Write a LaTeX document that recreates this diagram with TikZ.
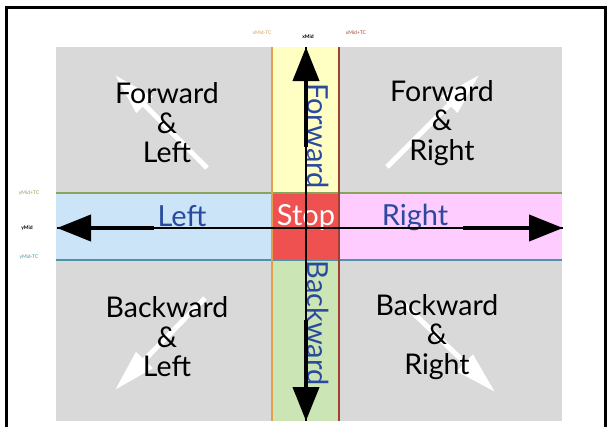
\documentclass[tikz,border=0pt]{standalone}
\usepackage{fontspec}
\setmainfont{Lato}
\usetikzlibrary{arrows.meta}

\definecolor{padgray}{HTML}{D9D9D9}
\definecolor{fwdyellow}{HTML}{FFFFC4}
\definecolor{backgreen}{HTML}{CCE5B5}
\definecolor{leftblue}{HTML}{CCE4F8}
\definecolor{rightpink}{HTML}{FFCCFF}
\definecolor{stopred}{HTML}{EF5050}
\definecolor{dirblue}{HTML}{2A4A9E}
\definecolor{lineolive}{HTML}{8AA35A}
\definecolor{lineteal}{HTML}{4F93A8}
\definecolor{lineorange}{HTML}{E0A050}
\definecolor{linebrown}{HTML}{A04030}

\tikzset{
  quadtext/.style={align=center, font=\fontsize{28.5}{29.5}\selectfont, text=black, inner sep=0pt},
  bandtext/.style={font=\fontsize{29}{30}\selectfont, text=dirblue, inner sep=0pt},
  ticklabel/.style={font=\fontsize{5}{6}\selectfont, inner sep=0pt},
  blackarrow/.style={line width=4pt, -{Triangle[length=34pt,width=26pt]}},
  whitearrow/.style={white, line width=5pt, -{Triangle[length=42pt,width=22pt]}},
  guide/.style={line width=1.3pt}
}

\begin{document}
\begin{tikzpicture}[x=1pt,y=-1pt]
  \useasboundingbox (0,0) rectangle (613,426);
  \fill[white] (0,0) rectangle (613,426);

  % control pad background and bands
  \fill[padgray] (56,47) rectangle (562,421);
  \fill[fwdyellow] (272,47) rectangle (339,193);
  \fill[backgreen] (272,260) rectangle (339,421);
  \fill[leftblue] (56,193) rectangle (272,260);
  \fill[rightpink] (339,193) rectangle (562,260);
  \fill[stopred] (272,193) rectangle (339,260);

  % threshold lines
  \draw[lineolive, line width=1.2pt] (56,193) -- (562,193);
  \draw[lineteal, line width=1.2pt] (56,260) -- (562,260);
  \draw[lineorange, line width=1.2pt] (272,47) -- (272,421);
  \draw[linebrown, line width=1.2pt] (339,47) -- (339,421);

  % key points
  \coordinate (c) at (306,228);
  \coordinate (top) at (306,47);
  \coordinate (bot) at (306,421);
  \coordinate (lft) at (57,228);
  \coordinate (rgt) at (563,228);
  \coordinate (upS) at (306,147);
  \coordinate (dnS) at (306,320);
  \coordinate (ltS) at (154,228);
  \coordinate (rtS) at (463,228);

  % diagonal hints
  \coordinate (flA) at (207,168); \coordinate (flB) at (115,75);
  \coordinate (frA) at (387,167); \coordinate (frB) at (479,75);
  \coordinate (blA) at (205,298); \coordinate (blB) at (115,390);
  \coordinate (brA) at (403,303); \coordinate (brB) at (495,392);
  \draw[whitearrow] (flA) -- (flB);
  \draw[whitearrow] (frA) -- (frB);
  \draw[whitearrow] (blA) -- (blB);
  \draw[whitearrow] (brA) -- (brB);

  % quadrant labels
  \node[quadtext] (fl) at (167,123) {Forward\\\&\\Left};
  \node[quadtext] (fr) at (442,123) {Forward\\\&\\Right};
  \node[quadtext] (bl) at (167,337) {Backward\\\&\\Left};
  \node[quadtext] (br) at (437,337) {Backward\\\&\\Right};

  % band labels
  \node[bandtext] (lefttxt) at (182,216) {Left};
  \node[bandtext] (righttxt) at (415,217) {Right};
  \node[bandtext, rotate=-90] (fwdtxt) at (318,136) {Forward};
  \node[bandtext, rotate=-90] (bwdtxt) at (318,323) {Backward};
  \node[bandtext, text=white] (stoptxt) at (306,217) {Stop};

  % centre axes
  \draw[guide] (lft) -- (rgt);
  \draw[guide] (top) -- (bot);

  % direction arrows
  \draw[blackarrow] (upS) -- (top);
  \draw[blackarrow] (dnS) -- (bot);
  \draw[blackarrow] (ltS) -- (lft);
  \draw[blackarrow] (rtS) -- (rgt);

  % axis tick labels
  \node[ticklabel, text=lineorange] (xlo) at (262,33) {xMid-TC};
  \node[ticklabel, text=black, font=\fontsize{5}{6}\selectfont\bfseries] (xmid) at (308,37) {xMid};
  \node[ticklabel, text=linebrown] (xhi) at (356,33) {xMid+TC};
  \node[ticklabel, text=lineolive] (yhi) at (29,193) {yMid+TC};
  \node[ticklabel, text=black, font=\fontsize{5}{6}\selectfont\bfseries] (ymid) at (27,228) {yMid};
  \node[ticklabel, text=lineteal] (ylo) at (29,257) {yMid-TC};

  % frame
  \draw[line width=3pt] (6,440) -- (6,7.5) -- (605,7.5) -- (605,440);
\end{tikzpicture}
\end{document}
